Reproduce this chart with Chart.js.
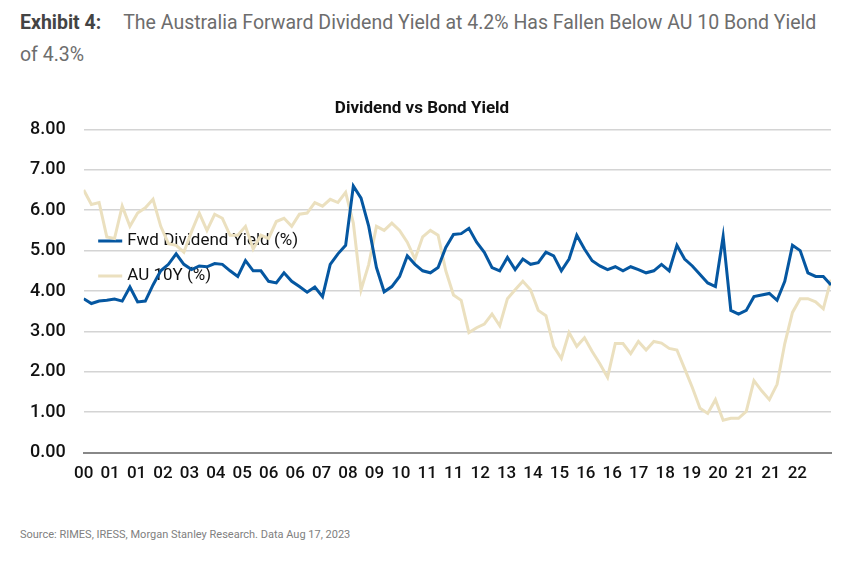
<!DOCTYPE html>
<html>
<head>
<meta charset="utf-8">
<script src="https://cdn.jsdelivr.net/npm/chart.js@4"></script>
<style>
  body { margin: 0; background: #fff; font-family: Roboto, sans-serif; }
  .head { position: absolute; left: 20px; top: 7px; width: 805px; font-size: 19.5px; line-height: 32px; color: #6d6d6d; }
  .head b { color: #444; margin-right: 22px; }
  .wrap { position: absolute; left: 12px; top: 97px; width: 822px; height: 390px; }
  .src { position: absolute; left: 20px; top: 528px; font-size: 11px; color: #808080; }
</style>
</head>
<body>
<div class="head"><b>Exhibit 4:</b>The Australia Forward Dividend Yield at 4.2% Has Fallen Below AU 10 Bond Yield of 4.3%</div>
<div class="wrap"><canvas id="chart"></canvas></div>
<div class="src">Source: RIMES, IRESS, Morgan Stanley Research. Data Aug 17, 2023</div>
<script>
// ticks as printed on the x axis
const xTickLabels = ["00","01","01","02","03","04","05","06","06","07","08","09","10","11","11","12","13","14","15","16","16","17","18","19","20","21","21","22","23"];

const fwdDividend = [3.81,3.69,3.75,3.77,3.8,3.75,4.1,3.73,3.75,4.15,4.5,4.66,4.92,4.66,4.53,4.62,4.6,4.68,4.66,4.5,
  4.36,4.75,4.5,4.5,4.24,4.2,4.45,4.24,4.11,3.97,4.1,3.86,4.66,4.92,5.13,6.6,6.3,5.6,4.58,3.98,
  4.11,4.36,4.87,4.66,4.5,4.45,4.58,5.08,5.4,5.42,5.55,5.21,4.96,4.58,4.5,4.83,4.53,4.79,4.66,4.7,
  4.96,4.87,4.5,4.79,5.38,5.04,4.75,4.62,4.53,4.6,4.5,4.6,4.53,4.45,4.5,4.66,4.5,5.13,4.79,4.62,
  4.41,4.2,4.11,5.35,3.52,3.43,3.52,3.86,3.9,3.94,3.77,4.24,5.13,5.0,4.45,4.36,4.36,4.15];
const au10y = [6.5,6.14,6.19,5.34,5.3,6.1,5.6,5.93,6.06,6.27,5.6,5.17,5.13,4.96,5.47,5.93,5.5,5.9,5.8,5.38,
  5.38,5.6,5.04,5.38,5.3,5.72,5.8,5.6,5.9,5.93,6.19,6.1,6.27,6.19,6.44,5.68,4.03,4.66,5.6,5.5,
  5.68,5.5,5.21,4.79,5.34,5.5,5.38,4.5,3.9,3.77,2.97,3.09,3.18,3.43,3.14,3.81,4.03,4.24,4.03,3.52,
  3.39,2.63,2.33,2.97,2.63,2.84,2.5,2.2,1.86,2.7,2.7,2.45,2.75,2.54,2.75,2.71,2.58,2.54,2.08,1.61,
  1.1,0.97,1.31,0.8,0.85,0.85,1.02,1.78,1.53,1.31,1.69,2.7,3.47,3.81,3.81,3.73,3.56,4.28];
const stepPerPoint = 0.2915; // tick units per data point

const toPoints = (arr) => arr.map((v, i) => ({ x: i * stepPerPoint, y: v }));
const ink = "#111";

new Chart(document.querySelector("#chart"), {
  type: "line",
  data: {
    datasets: [
      { label: "Fwd Dividend Yield (%)", data: toPoints(fwdDividend), borderColor: "#0557a1", backgroundColor: "#0557a1", borderWidth: 3, pointRadius: 0, tension: 0 },
      { label: "AU 10Y (%)", data: toPoints(au10y), borderColor: "#ebe0bf", backgroundColor: "#ebe0bf", borderWidth: 3, pointRadius: 0, tension: 0 },
    ],
  },
  options: {
    responsive: true,
    maintainAspectRatio: false,
    animation: false,
    layout: { padding: { right: 2 } },
    plugins: {
      title: { display: true, text: "Dividend vs Bond Yield", color: ink, font: { family: "Roboto", size: 17, weight: "bold" }, padding: { top: 2, bottom: 10 } },
      legend: {
        position: "chartArea",
        align: "center",
        labels: { usePointStyle: true, pointStyle: "line", boxWidth: 45, color: ink, font: { family: "Roboto", size: 17 }, padding: 18 },
      },
      tooltip: { enabled: false },
    },
    scales: {
      x: {
        type: "linear",
        min: 0,
        max: (fwdDividend.length - 1) * stepPerPoint,
        grid: { display: false },
        border: { color: "#888", width: 2 },
        ticks: {
          stepSize: 1,
          autoSkip: false,
          maxRotation: 0,
          color: ink,
          font: { family: "Roboto", size: 17, weight: "500" },
          callback: (v) => xTickLabels[v] ?? "",
        },
      },
      y: {
        min: 0,
        max: 8,
        grid: { color: "#d4d4d4", lineWidth: 1.5, drawTicks: false },
        border: { display: false },
        ticks: { stepSize: 1, padding: 18, color: ink, font: { family: "Roboto", size: 18, weight: "500" }, callback: (v) => v.toFixed(2) },
      },
    },
  },
});
</script>
</body>
</html>
